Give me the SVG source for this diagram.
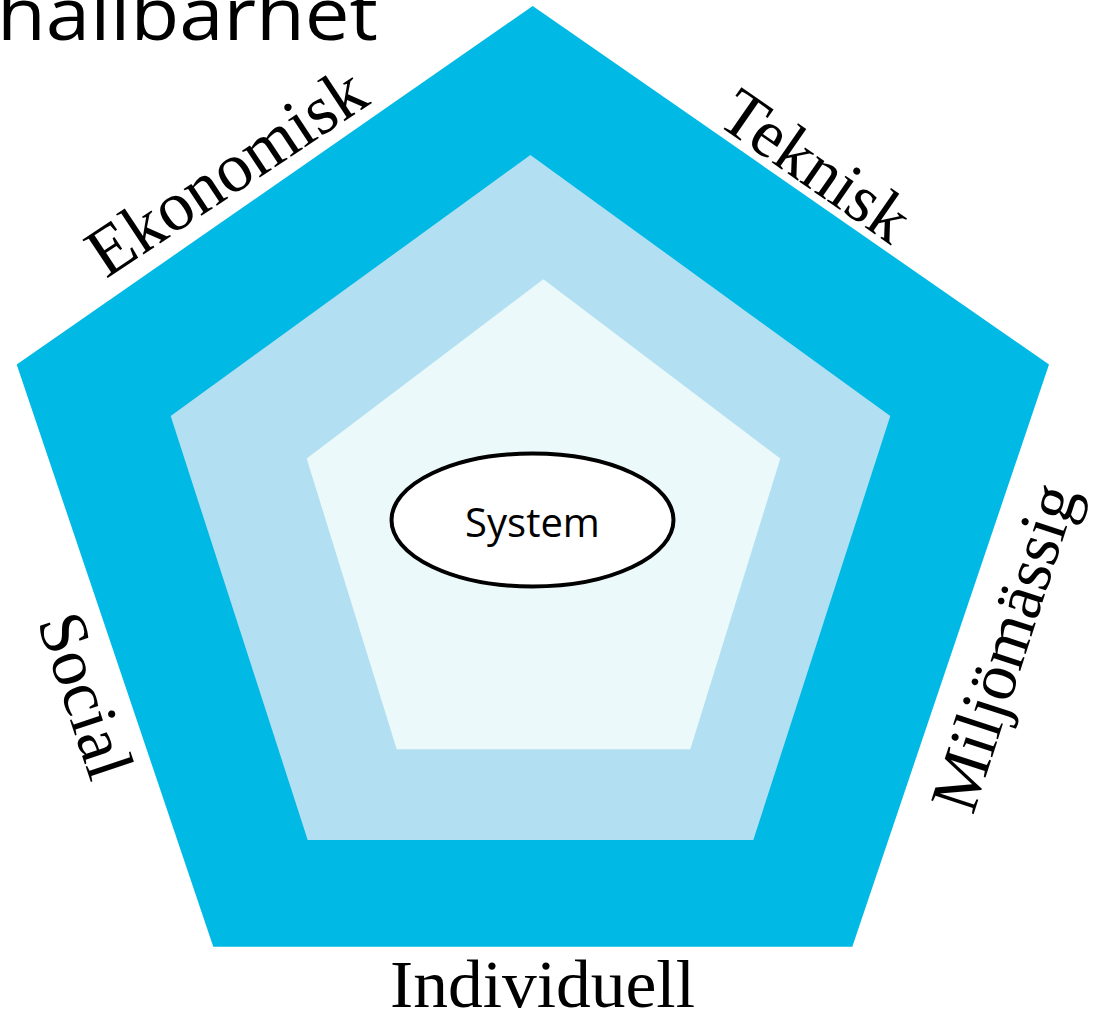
<svg xmlns="http://www.w3.org/2000/svg" width="1098" height="1015" viewBox="0 0 1098 1015">
<style>
.lbl{font-family:"Liberation Serif","Times New Roman",serif;font-size:68px;fill:#000}
.ttl{font-family:"Open Sans","Noto Sans",sans-serif;font-size:74px;fill:#000}
.sys{font-family:"Open Sans","Noto Sans",sans-serif;font-size:40px;fill:#000}
</style>
<rect width="1098" height="1015" fill="#FFFFFF"/>
<g id="title">
<text class="ttl" x="-3" y="40" textLength="381" lengthAdjust="spacingAndGlyphs">hållbarhet</text>
</g>
<g id="outer">
<polygon points="532.7,6 1049,364.5 852.3,946.7 213.3,946.7 16.7,364.5" fill="#00B9E5"/>
</g>
<g id="middle">
<polygon points="530.4,155 890.3,416 753.3,840 307.7,840 170.7,416" fill="#B2E0F2"/>
</g>
<g id="inner">
<polygon points="543.4,279.3 780.3,458.5 690.3,749.3 396.7,749.3 306.7,458.5" fill="#ECF9FA"/>
</g>
<g id="system">
<ellipse cx="532.5" cy="520" rx="141" ry="66.5" fill="#FFFFFF" stroke="#000" stroke-width="4"/>
<text class="sys" x="532.5" y="537" text-anchor="middle">System</text>
</g>
<g id="labels">
<text class="lbl" style="font-size:70px" transform="translate(106,279) rotate(-33.5)">Ekonomisk</text>
<text class="lbl" transform="translate(715,123) rotate(34.8)">Teknisk</text>
<text class="lbl" transform="translate(973,816) rotate(-72)">Miljömässig</text>
<text class="lbl" transform="translate(37,622) rotate(71.4)">Social</text>
<text class="lbl" x="390" y="1007" textLength="305" lengthAdjust="spacingAndGlyphs">Individuell</text>
</g>
</svg>
